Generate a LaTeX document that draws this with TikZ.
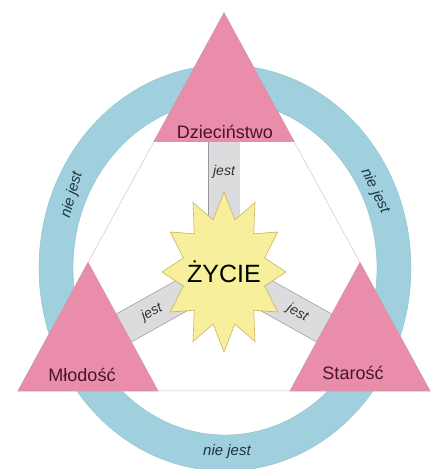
\documentclass[tikz,border=0pt]{standalone}
\usepackage{fontspec}
\setmainfont{Liberation Sans}
\usepackage{xcolor}
\usepackage{tikz}
\usetikzlibrary{calc}
\definecolor{ZycBlue}{HTML}{A0D0DD}
\definecolor{ZycBlueEdge}{HTML}{8CBFCC}
\definecolor{ZycPink}{HTML}{E98DAB}
\definecolor{ZycPinkLine}{HTML}{C79AAB}
\definecolor{ZycYellow}{HTML}{F8EF9C}
\definecolor{ZycGold}{HTML}{C9B45A}
\definecolor{ZycBar}{HTML}{DCDCDE}
\definecolor{ZycGray}{HTML}{9A9A9E}
\definecolor{ZycWine}{HTML}{4A1426}
\definecolor{ZycInk}{HTML}{1E3440}

\begin{document}
\begin{tikzpicture}[
  x=1pt,y=1pt,
  corner/.style={fill=ZycPink,draw=ZycPinkLine,line width=0.6pt},
  bar/.style={draw=ZycGray,line width=0.7pt,double=ZycBar,double distance=31pt},
  age/.style={font=\fontsize{18}{20}\selectfont,text=ZycWine},
  jest/.style={font=\fontsize{14}{16}\selectfont\itshape,text=black!80},
  niejest/.style={font=\fontsize{15}{17}\selectfont\itshape,text=ZycInk}
]
  \useasboundingbox (0,0) rectangle (435,469);

  % ring
  \filldraw[fill=ZycBlue,draw=ZycBlueEdge,line width=0.4pt,even odd rule]
    (225,201) ellipse [x radius=186,y radius=203]
    (225,201) ellipse [x radius=152,y radius=167];

  % big triangle
  \coordinate (A) at (224,456);
  \coordinate (B) at (18,78);
  \coordinate (C) at (430,78);
  \filldraw[fill=white,draw=ZycPinkLine!60,line width=0.5pt] (A) -- (B) -- (C) -- cycle;

  % bars
  \coordinate (core) at (224,197);
  \coordinate (ctop) at (224,370);
  \coordinate (cleft) at (88,121);
  \coordinate (cright) at (360,121);
  \draw[bar] (core) -- node[jest,pos=0.58]{jest} (ctop);
  \draw[bar] (core) -- node[jest,pos=0.53,sloped]{jest} (cleft);
  \draw[bar] (core) -- node[jest,pos=0.54,sloped]{jest} (cright);

  % corner triangles
  \draw[corner] (A) -- ($(A)!0.34!(B)$) -- ($(A)!0.34!(C)$) -- cycle;
  \draw[corner] (B) -- ($(B)!0.34!(A)$) -- ($(B)!0.34!(C)$) -- cycle;
  \draw[corner] (C) -- ($(C)!0.34!(A)$) -- ($(C)!0.34!(B)$) -- cycle;
  \node[age] (dziec) at (225,337) {Dzieciństwo};
  \node[age] (mlod) at (82,94) {Młodość};
  \node[age] (staro) at (353,96) {Starość};

  % star
  \filldraw[fill=ZycYellow,draw=ZycGold,line width=0.6pt]
    plot[samples at={0,...,23},variable=\k]
    ({224+ifthenelse(mod(\k,2)==0,62,42)*cos(90+15*\k)},
     {197+ifthenelse(mod(\k,2)==0,80,54)*sin(90+15*\k)}) -- cycle;
  \node[font=\fontsize{25}{28}\selectfont] (zycie) at (core) {ŻYCIE};

  % ring labels
  \node[niejest,rotate=75] (nleft) at (72,274) {nie jest};
  \node[niejest,rotate=-64] (nright) at (375,278) {nie jest};
  \node[niejest] (nbottom) at (227,17) {nie jest};
\end{tikzpicture}
\end{document}
